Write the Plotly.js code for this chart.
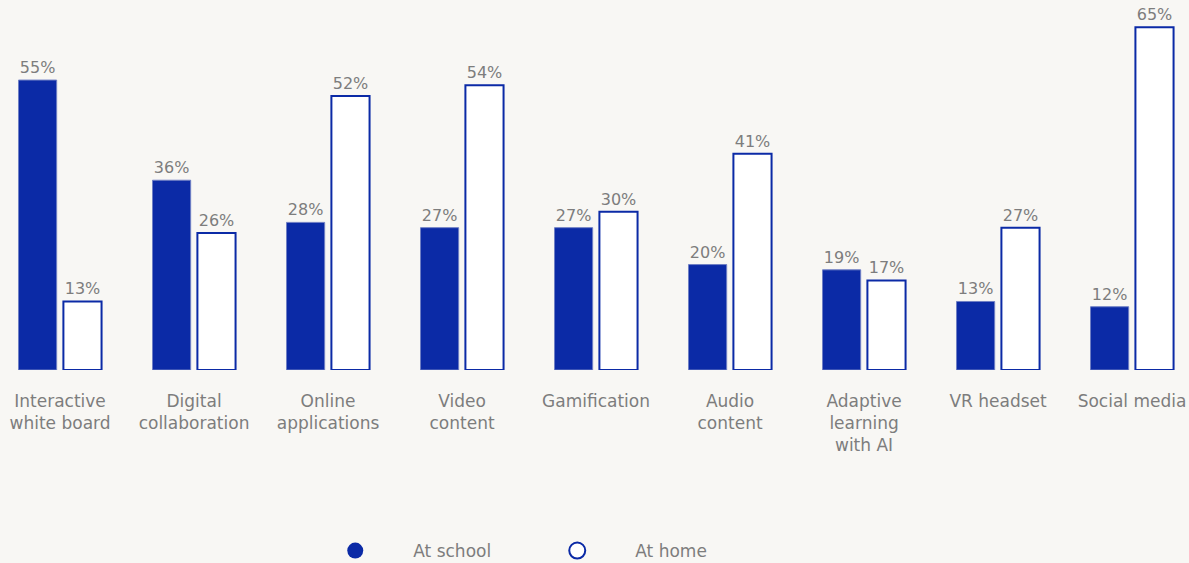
<!DOCTYPE html>
<html>
<head>
<meta charset="utf-8">
<script src="https://cdn.plot.ly/plotly-3.0.1.min.js"></script>
<style>
html, body { margin: 0; padding: 0; background: #f8f7f4; }
#chart { width: 1189px; height: 563px; }
</style>
</head>
<body>
<div id="chart"></div>
<script>
const categories = [
  'Interactive<br>white board', 'Digital<br>collaboration', 'Online<br>applications',
  'Video<br>content', 'Gamification', 'Audio<br>content',
  'Adaptive<br>learning<br>with AI', 'VR headset', 'Social media'
]
const atSchool = [55, 36, 28, 27, 27, 20, 19, 13, 12]
const atHome = [13, 26, 52, 54, 30, 41, 17, 27, 65]

const blue = '#0b2aa6'
const grey = '#7d7d7d'
const font = 'DejaVu Sans, sans-serif'

const pct = (v) => v.map(d => d + '%')

const data = [
  {
    type: 'bar', x: categories, y: atSchool, name: 'At school',
    marker: { color: blue, line: { color: '#6f7fc4', width: 1 } },
    text: pct(atSchool), textposition: 'outside', cliponaxis: false,
    textfont: { family: font, size: 16, color: grey },
    showlegend: false, hoverinfo: 'skip'
  },
  {
    type: 'bar', x: categories, y: atHome, name: 'At home',
    marker: { color: '#ffffff', line: { color: blue, width: 2 } },
    text: pct(atHome), textposition: 'outside', cliponaxis: false,
    textfont: { family: font, size: 16, color: grey },
    showlegend: false, hoverinfo: 'skip'
  },
  // legend entries with round markers
  {
    type: 'scatter', mode: 'markers', x: [null], y: [null], name: 'At school',
    marker: { color: blue, size: 19, symbol: 'circle' }
  },
  {
    type: 'scatter', mode: 'markers', x: [null], y: [null], name: 'At home',
    marker: { color: '#ffffff', size: 16, symbol: 'circle', line: { color: blue, width: 2 } }
  }
]

const layout = {
  width: 1189,
  height: 563,
  paper_bgcolor: '#f8f7f4',
  plot_bgcolor: '#f8f7f4',
  margin: { l: 0, r: 0, t: 1, b: 193 },
  barmode: 'group',
  bargap: 0.33,
  bargroupgap: 0.15,
  font: { family: font, size: 17, color: grey },
  xaxis: {
    type: 'category',
    range: [-0.448, 8.425],
    showgrid: false, zeroline: false, showline: false,
    ticks: '', ticklabelstandoff: 19,
    tickfont: { family: font, size: 17, color: grey }
  },
  yaxis: {
    range: [0, 70],
    visible: false, showgrid: false, zeroline: false
  },
  showlegend: true,
  legend: {
    orientation: 'h',
    xref: 'container', yref: 'container',
    x: 0.25, xanchor: 'left',
    y: 0.0213, yanchor: 'middle',
    itemwidth: 106,
    entrywidth: 101,
    font: { family: font, size: 17, color: grey },
    bgcolor: 'rgba(0,0,0,0)'
  }
}

Plotly.newPlot('chart', data, layout, { displayModeBar: false, staticPlot: true })
</script>
</body>
</html>
